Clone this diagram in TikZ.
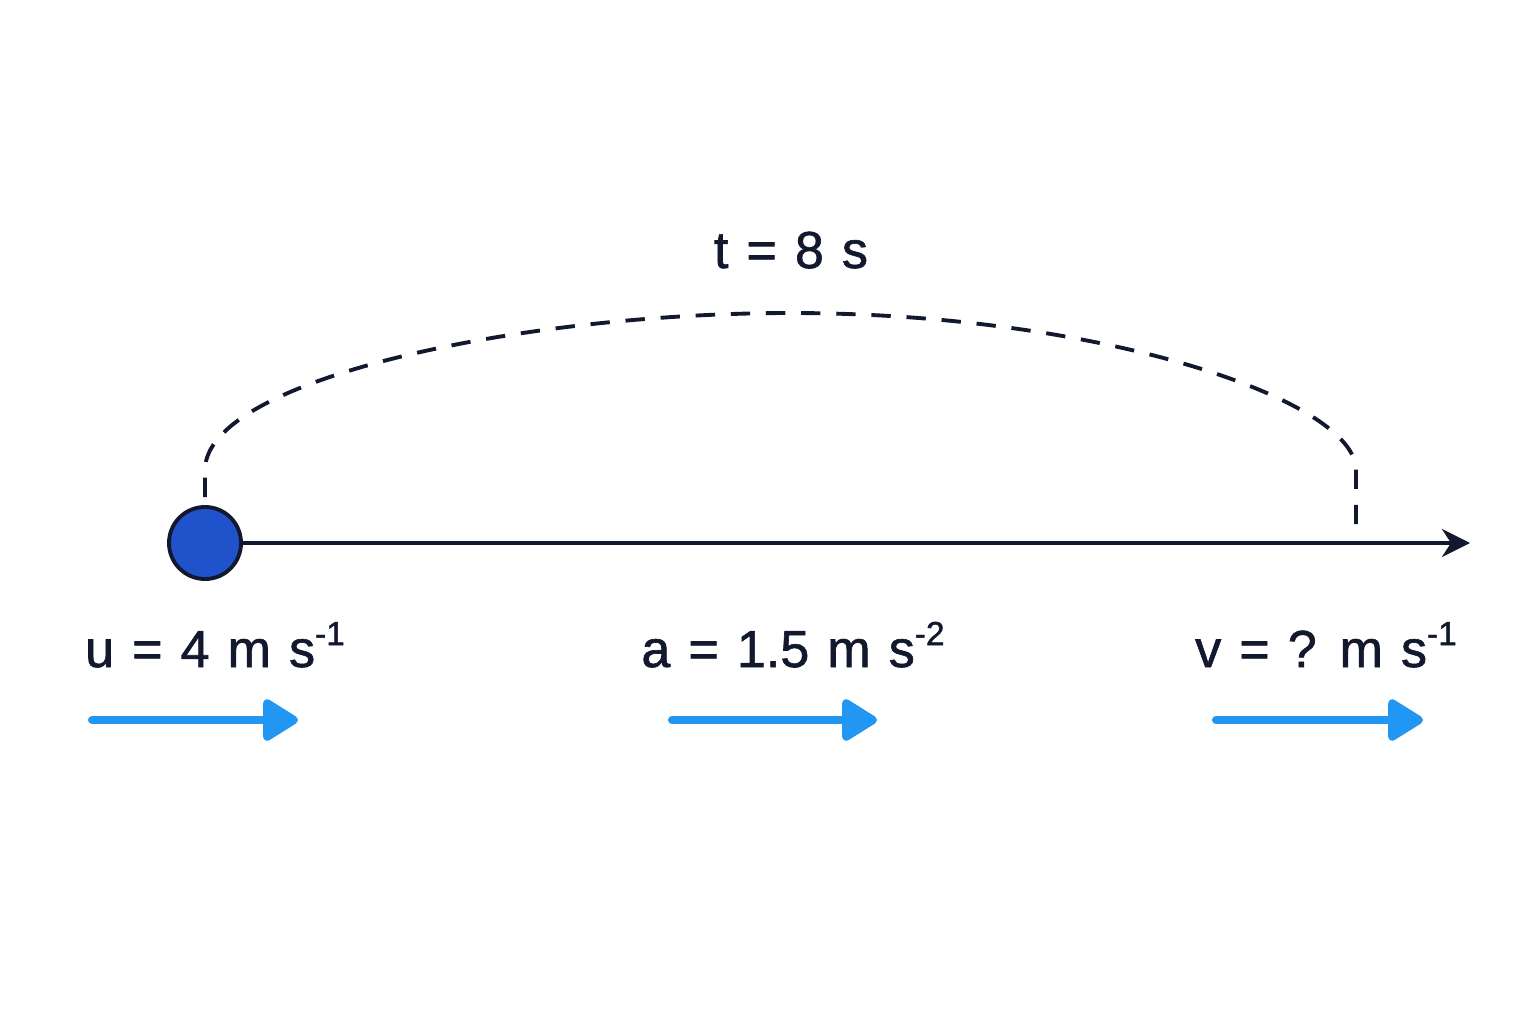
\documentclass[tikz,border=0pt]{standalone}
\usepackage{fontspec}
\setmainfont{Liberation Sans}
\newfontfamily\quantityfont{Liberation Sans}[FakeBold=1.2, WordSpace=1.25]
\usetikzlibrary{arrows.meta}
\definecolor{inkdark}{RGB}{18, 24, 46}
\definecolor{ballblue}{RGB}{32, 82, 204}
\definecolor{vecblue}{RGB}{33, 150, 243}
\newcommand{\unitpow}[1]{\raisebox{0.42em}{\fontsize{9.5}{10}\selectfont #1}}

\begin{document}
\begin{tikzpicture}[x=0.01cm, y=-0.01cm,
    quantity/.style={text=inkdark, font=\quantityfont\fontsize{14.8}{17}\selectfont, inner sep=0pt, anchor=base},
    vector/.style={draw=vecblue, line width=2.3pt, line cap=round, -{Triangle[length=11pt, width=13pt, round]}}]
    \useasboundingbox (0,0) rectangle (1536,1024);
    % Particle and path
    \node[circle, fill=ballblue, draw=inkdark, line width=1.1pt, minimum size=0.72cm, inner sep=0pt] (ball) at (205,543) {};
    \coordinate (axisend) at (1470,543);
    \draw[inkdark, line width=1.1pt, -{Stealth[length=8pt, width=8pt]}] (ball.east) -- (axisend);
    
    % Time interval
    \coordinate (arcstart) at (205,497);
    \coordinate (arcend) at (1356,528);
    \draw[inkdark, line width=1.1pt, dash pattern=on 5.5pt off 4.5pt] (arcstart) -- (205,470) .. controls (205,380) and (520,313) .. (790,313) .. controls (1100,313) and (1356,400) .. (1356,470) -- (arcend);
    \node[quantity] (time) at (791,268) {t = 8 s};
    
    % Quantities
    \node[quantity] (initial) at (215,667) {u = 4 m s\unitpow{-1}};
    \node[quantity] (accel) at (793,667) {a = 1.5 m s\unitpow{-2}};
    \node[quantity] (final) at (1326,667) {v = ? m s\unitpow{-1}};
    
    % Direction arrows
    \coordinate (ustart) at (92,720);
    \coordinate (uend) at (298,720);
    \coordinate (astart) at (672,720);
    \coordinate (aend) at (877,720);
    \coordinate (vstart) at (1216,720);
    \coordinate (vend) at (1423,720);
    \draw[vector] (ustart) -- (uend);
    \draw[vector] (astart) -- (aend);
    \draw[vector] (vstart) -- (vend);
\end{tikzpicture}
\end{document}
